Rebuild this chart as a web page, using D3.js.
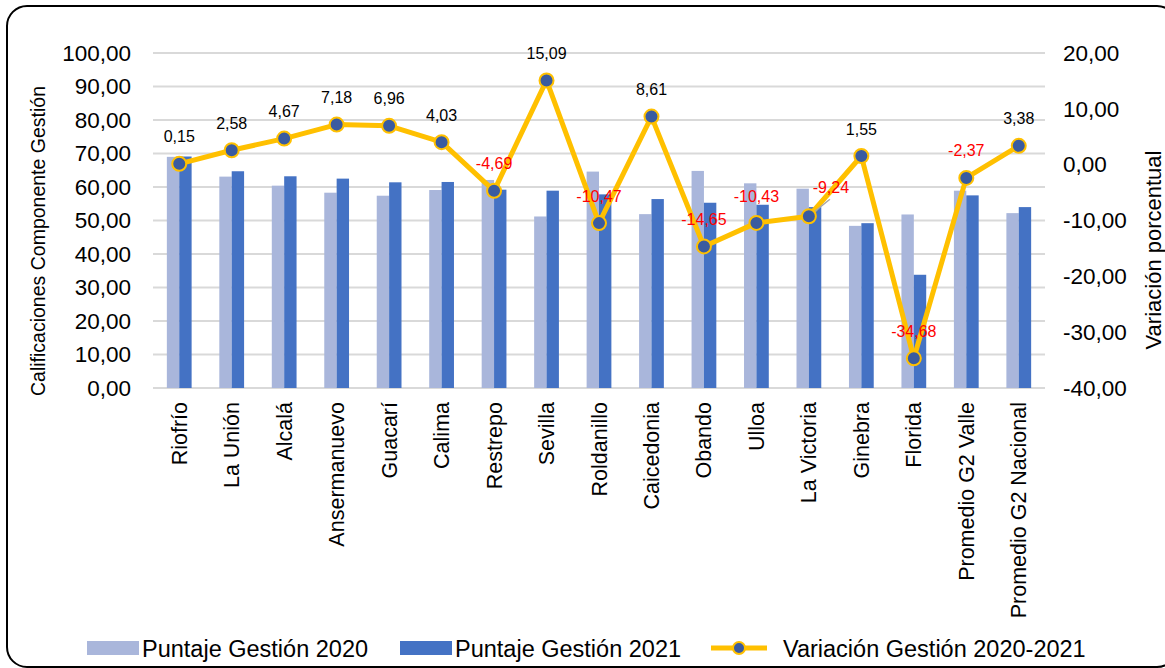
<!DOCTYPE html>
<html>
<head>
<meta charset="utf-8">
<script src="https://cdn.jsdelivr.net/npm/d3@7"></script>
<style>
  body { margin: 0; background: #fff; }
  svg { font-family: "Liberation Sans", Arial, sans-serif; }
</style>
</head>
<body>
<script>
var municipios = ["Riofrío", "La Unión", "Alcalá", "Ansermanuevo", "Guacarí", "Calima", "Restrepo",
  "Sevilla", "Roldanillo", "Caicedonia", "Obando", "Ulloa", "La Victoria", "Ginebra", "Florida",
  "Promedio G2 Valle", "Promedio G2 Nacional"];
var puntaje2020 = [69.0, 63.1, 60.4, 58.3, 57.4, 59.1, 62.1, 51.2, 64.6, 51.9, 64.8, 61.1, 59.5, 48.4, 51.8, 58.9, 52.2];
var puntaje2021 = [69.1, 64.7, 63.2, 62.5, 61.4, 61.5, 59.2, 58.9, 57.8, 56.4, 55.3, 54.7, 54.0, 49.2, 33.8, 57.5, 54.0];
var variacion = [0.15, 2.58, 4.67, 7.18, 6.96, 4.03, -4.69, 15.09, -10.47, 8.61, -14.65, -10.43, -9.24, 1.55, -34.68, -2.37, 3.38];
var ticksIzq = [0, 10, 20, 30, 40, 50, 60, 70, 80, 90, 100];
var ticksDer = [-40, -30, -20, -10, 0, 10, 20];

var w = 1165, h = 668;
var fmt = function(v){ return d3.format(".2f")(v).replace("\u2212", "-").replace(".", ","); };

var svg = d3.select("body").append("svg")
  .attr("width", w).attr("height", h);

// marco redondeado
svg.append("rect")
  .attr("x", 7).attr("y", 6)
  .attr("width", 1170).attr("height", 661)
  .attr("rx", 20)
  .attr("fill", "#fff").attr("stroke", "#000").attr("stroke-width", 2);

var x = d3.scaleBand().domain(municipios).range([153, 1045]);
var y = d3.scaleLinear().domain([0, 100]).range([388, 53]);
var y2 = d3.scaleLinear().domain([-40, 20]).range([388, 53]);

// rejilla
svg.append("g").selectAll("line")
  .data(ticksIzq)
  .enter().append("line")
  .attr("x1", 153).attr("x2", 1045)
  .attr("y1", function(d){ return y(d); })
  .attr("y2", function(d){ return y(d); })
  .attr("stroke", "#d9d9d9").attr("stroke-width", 2);

// eje izquierdo
var yAxis = d3.axisLeft(y).tickValues(ticksIzq).tickFormat(fmt).tickSize(0).tickPadding(0);
var gy = svg.append("g")
  .attr("transform", "translate(131,0)")
  .call(yAxis);
gy.select(".domain").remove();
gy.selectAll("text").attr("font-size", "22.5px").attr("fill", "#000").attr("font-family", "Liberation Sans, Arial");

// eje derecho
var yAxis2 = d3.axisRight(y2).tickValues(ticksDer).tickFormat(fmt).tickSize(0).tickPadding(0);
var gy2 = svg.append("g")
  .attr("transform", "translate(1063,0)")
  .call(yAxis2);
gy2.select(".domain").remove();
gy2.selectAll("text").attr("font-size", "22.5px").attr("fill", "#000").attr("font-family", "Liberation Sans, Arial");

// barras
var bw = x.bandwidth() * 0.236;
var grupo = svg.append("g").selectAll("g")
  .data(municipios)
  .enter().append("g");

grupo.append("rect")
  .attr("x", function(d){ return x(d) + x.bandwidth() / 2 - bw; })
  .attr("width", bw)
  .attr("y", function(d, i){ return y(puntaje2020[i]); })
  .attr("height", function(d, i){ return y(0) - y(puntaje2020[i]); })
  .attr("fill", "#a9b6db");

grupo.append("rect")
  .attr("x", function(d){ return x(d) + x.bandwidth() / 2; })
  .attr("width", bw)
  .attr("y", function(d, i){ return y(puntaje2021[i]); })
  .attr("height", function(d, i){ return y(0) - y(puntaje2021[i]); })
  .attr("fill", "#4472c4");

// etiquetas de categoria
svg.append("g").selectAll("text")
  .data(municipios)
  .enter().append("text")
  .attr("transform", function(d){
    return "translate(" + (x(d) + x.bandwidth() / 2) + ",402) rotate(-90)";
  })
  .attr("text-anchor", "end")
  .attr("dy", "0.35em")
  .attr("font-size", "21.5px")
  .text(function(d){ return d; });

// linea de variacion
var cx = function(i){ return x(municipios[i]) + x.bandwidth() / 2; };
var line = d3.line()
  .x(function(d, i){ return cx(i); })
  .y(function(d){ return y2(d); });

svg.append("path")
  .datum(variacion)
  .attr("d", line)
  .attr("fill", "none")
  .attr("stroke", "#ffc000")
  .attr("stroke-width", 5)
  .attr("stroke-linejoin", "round");

// linea guia para La Victoria
var iv = municipios.indexOf("La Victoria");
svg.append("line")
  .attr("x1", cx(iv)).attr("y1", y2(variacion[iv]))
  .attr("x2", cx(iv) + 21).attr("y2", y2(variacion[iv]) - 17)
  .attr("stroke", "#a6a6a6").attr("stroke-width", 1.5);

svg.append("g").selectAll("circle")
  .data(variacion)
  .enter().append("circle")
  .attr("cx", function(d, i){ return cx(i); })
  .attr("cy", function(d){ return y2(d); })
  .attr("r", 7)
  .attr("fill", "#3a5ba0")
  .attr("stroke", "#ffc000")
  .attr("stroke-width", 2);

// etiquetas de datos
var desplaza = { "La Victoria": [22, -29] };
svg.append("g").selectAll("text")
  .data(variacion)
  .enter().append("text")
  .attr("x", function(d, i){
    var o = desplaza[municipios[i]];
    return cx(i) + (o ? o[0] : 0);
  })
  .attr("y", function(d, i){
    var o = desplaza[municipios[i]];
    return y2(d) + (o ? o[1] : -27);
  })
  .attr("dy", "0.35em")
  .attr("text-anchor", "middle")
  .attr("font-size", "16px")
  .attr("fill", function(d){ return d < 0 ? "#ff0000" : "#000"; })
  .text(function(d){ return fmt(d); });

// titulos de ejes
svg.append("text")
  .attr("transform", "translate(38,241) rotate(-90)")
  .attr("text-anchor", "middle")
  .attr("dy", "0.35em")
  .attr("font-size", "19.5px")
  .text("Calificaciones Componente Gestión");

svg.append("text")
  .attr("transform", "translate(1153,250) rotate(-90)")
  .attr("text-anchor", "middle")
  .attr("dy", "0.35em")
  .attr("font-size", "22px")
  .text("Variación porcentual");

// leyenda
var ley = svg.append("g").attr("font-size", "23.5px");
ley.append("rect").attr("x", 87).attr("y", 641).attr("width", 52).attr("height", 14).attr("fill", "#a9b6db");
ley.append("text").attr("x", 142).attr("y", 649).attr("dy", "0.35em").text("Puntaje Gestión 2020");
ley.append("rect").attr("x", 400).attr("y", 641).attr("width", 52).attr("height", 14).attr("fill", "#4472c4");
ley.append("text").attr("x", 455).attr("y", 649).attr("dy", "0.35em").text("Puntaje Gestión 2021");
ley.append("line").attr("x1", 711).attr("x2", 767).attr("y1", 648).attr("y2", 648)
  .attr("stroke", "#ffc000").attr("stroke-width", 5);
ley.append("circle").attr("cx", 739).attr("cy", 648).attr("r", 6)
  .attr("fill", "#3a5ba0").attr("stroke", "#ffc000").attr("stroke-width", 2);
ley.append("text").attr("x", 783).attr("y", 649).attr("dy", "0.35em").text("Variación Gestión 2020-2021");
</script>
</body>
</html>
